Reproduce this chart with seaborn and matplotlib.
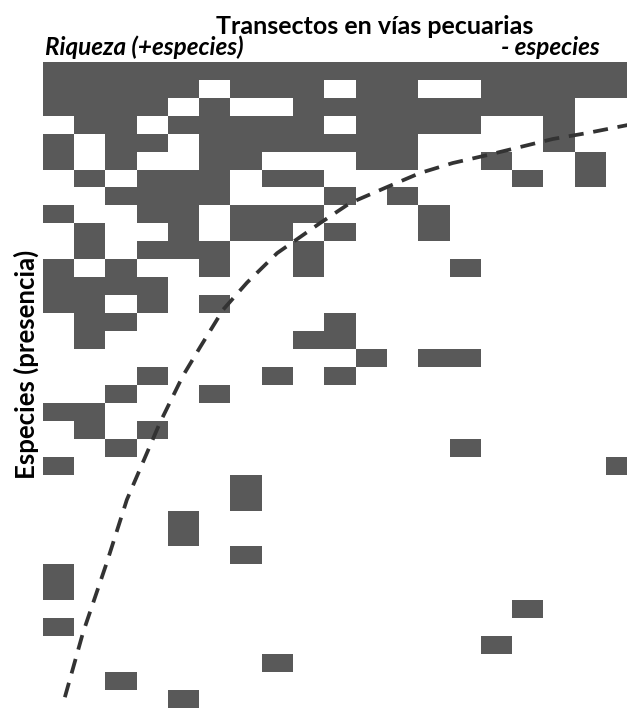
import numpy as np
import pandas as pd
import seaborn as sns
import matplotlib.pyplot as plt
from matplotlib.colors import ListedColormap

# transects (columns) and species presence per row (indices of transects where present)
transects = [f"T{i}" for i in range(1, 20)]
presence = [
    list(range(19)),
    [0, 1, 2, 3, 4, 6, 7, 8, 10, 11, 14, 15, 16, 17, 18],
    [0, 1, 2, 3, 5, 8, 9, 10, 11, 12, 13, 14, 15, 16],
    [1, 2, 4, 5, 6, 7, 8, 10, 11, 12, 13, 16],
    [0, 2, 3, 5, 6, 7, 8, 9, 10, 11, 16],
    [0, 2, 5, 6, 10, 11, 14, 17],
    [1, 3, 4, 5, 7, 8, 15, 17],
    [2, 3, 4, 5, 9, 11],
    [0, 3, 4, 6, 7, 8, 12],
    [1, 4, 6, 7, 9, 12],
    [1, 3, 4, 5, 8],
    [0, 2, 5, 8, 13],
    [0, 1, 2, 3],
    [0, 1, 3, 5],
    [1, 2, 9],
    [1, 8, 9],
    [10, 12, 13],
    [3, 7, 9],
    [2, 5],
    [0, 1],
    [1, 3],
    [2, 13],
    [0, 18],
    [6],
    [6],
    [4],
    [4],
    [6],
    [0],
    [0],
    [15],
    [0],
    [14],
    [7],
    [2],
    [4],
]
species = [f"sp{i + 1}" for i in range(len(presence))]

# hand-drawn trend curve (in cell units)
curve_x = [0.71, 1.29, 2.05, 2.69, 3.33, 3.75, 4.48, 5.03, 5.77, 6.53, 7.49,
           8.86, 9.82, 11.0, 12.05, 13.1, 14.2, 15.25, 16.3, 17.39, 18.67, 19.3]
curve_y = [35.4, 31.8, 27.9, 24.4, 21.8, 20.1, 17.5, 15.9, 13.8, 12.3, 10.66,
           8.99, 7.87, 6.98, 6.2, 5.64, 5.2, 4.75, 4.3, 3.97, 3.53, 3.35]

mat = np.zeros((len(species), len(transects)), dtype=int)
for i, cols in enumerate(presence):
    mat[i, cols] = 1
df = pd.DataFrame(mat, index=species, columns=transects)

fig = plt.figure(figsize=(6.27, 7.08), dpi=100)
ax = fig.add_axes([0.068, 0.0, 0.9485, 0.9127])
sns.heatmap(df, cmap=ListedColormap(["white", "#595959"]), cbar=False,
            xticklabels=False, yticklabels=False, ax=ax)
ax.plot(curve_x, curve_y, color="#333333", lw=2.7, dashes=(4, 2.6),
        solid_capstyle="butt", clip_on=False)
ax.set_xlabel("")
ax.set_ylabel("")

font = ["Lato", "DejaVu Sans"]
fig.text(0.598, 0.952, "Transectos en vías pecuarias", ha="center", va="baseline",
         fontsize=18, fontweight="bold", family=font)
fig.text(0.072, 0.9223, "Riqueza (+especies)", ha="left", va="baseline",
         fontsize=17.5, fontweight="bold", style="italic", family=font)
fig.text(0.957, 0.9223, "- especies", ha="right", va="baseline",
         fontsize=17.5, fontweight="bold", style="italic", family=font)
fig.text(0.0415, 0.486, "Especies (presencia)", ha="center", va="center",
         rotation=90, fontsize=18.5, fontweight="bold", family=font)

fig.savefig("out.png", dpi=100)
